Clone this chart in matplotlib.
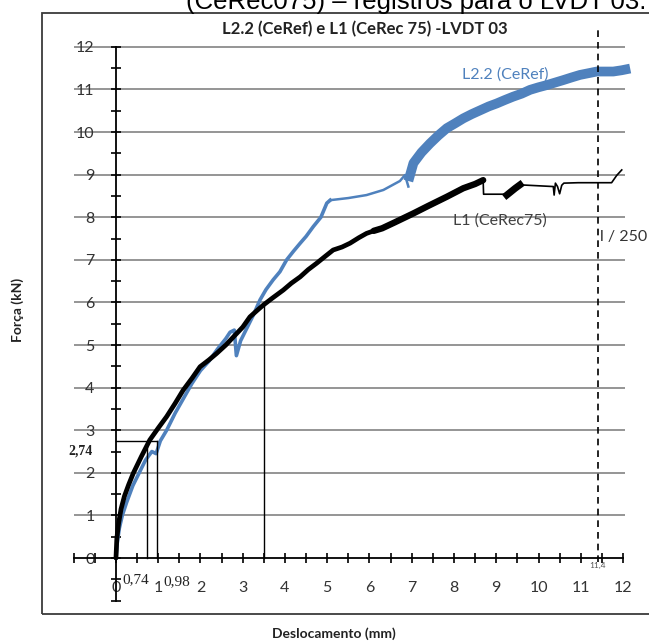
import matplotlib
matplotlib.use("Agg")
import matplotlib.pyplot as plt
from matplotlib.patches import Rectangle
from matplotlib.ticker import MultipleLocator, FixedLocator, FixedFormatter

# ── Data ──────────────────────────────────────────────────────────────────────

# L1 (CeRec75) - main rising part (noisy band)
l1_x = [0.0, 0.02, 0.06, 0.12, 0.2, 0.3, 0.41, 0.6, 0.8, 1.0, 1.2, 1.4, 1.59,
        1.8, 1.99, 2.2, 2.38, 2.6, 2.78, 3.0, 3.17, 3.35, 3.49, 3.7, 3.96, 4.15,
        4.36, 4.55, 4.75, 4.95, 5.14, 5.35, 5.54, 5.75, 5.93, 6.1, 6.3, 6.6,
        7.04, 7.4, 7.83, 8.22, 8.5, 8.69]
l1_y = [0.0, 0.45, 0.8, 1.15, 1.45, 1.72, 1.99, 2.38, 2.77, 3.05, 3.32, 3.63,
        3.94, 4.22, 4.49, 4.65, 4.8, 5.0, 5.19, 5.42, 5.66, 5.82, 5.94, 6.1,
        6.29, 6.45, 6.6, 6.77, 6.92, 7.08, 7.23, 7.3, 7.39, 7.52, 7.62, 7.68,
        7.74, 7.88, 8.09, 8.27, 8.48, 8.68, 8.78, 8.87]

# L1 tail: drop, plateaus and short noisy steps
l1_tail_x = [8.69, 8.70, 9.25, 9.30, 9.40, 9.50, 9.56, 10.35, 10.37, 10.40,
             10.45, 10.50, 10.55, 10.60, 10.94, 11.73, 11.85, 11.97]
l1_tail_y = [8.87, 8.54, 8.54, 8.50, 8.62, 8.70, 8.76, 8.72, 8.52, 8.80,
             8.72, 8.55, 8.75, 8.80, 8.81, 8.81, 8.98, 9.11]
l1_block_x = [9.25, 9.35, 9.45, 9.56]
l1_block_y = [8.52, 8.60, 8.68, 8.76]

# L2.2 (CeRef) - first part, follows L1 with some dips
l2_x = [0.0, 0.03, 0.08, 0.15, 0.25, 0.4, 0.55, 0.7, 0.85, 0.95, 1.05, 1.2,
        1.4, 1.6, 1.8, 2.0, 2.2, 2.4, 2.6, 2.7, 2.8, 2.85, 2.95, 3.1, 3.25,
        3.41, 3.55, 3.72, 3.88, 4.04, 4.2, 4.36, 4.5, 4.67, 4.85, 4.99, 5.07]
l2_y = [0.0, 0.35, 0.7, 1.0, 1.3, 1.7, 2.0, 2.3, 2.5, 2.45, 2.75, 3.0, 3.4,
        3.75, 4.1, 4.4, 4.62, 4.9, 5.15, 5.3, 5.35, 4.75, 5.1, 5.4, 5.7, 6.06,
        6.3, 6.53, 6.72, 7.0, 7.2, 7.39, 7.55, 7.78, 8.0, 8.33, 8.40]

# L2.2 - smooth segment
l2_mid_x = [5.07, 5.5, 5.93, 6.33, 6.72, 6.84, 6.92]
l2_mid_y = [8.40, 8.45, 8.52, 8.64, 8.85, 8.99, 8.72]

# L2.2 - noisy band after the kink
l2_end_x = [6.92, 7.04, 7.23, 7.43, 7.63, 7.83, 8.02, 8.22, 8.42, 8.62, 8.82,
            9.01, 9.2, 9.40, 9.6, 9.80, 10.0, 10.19, 10.39, 10.59, 10.78,
            10.98, 11.18, 11.38, 11.58, 11.77, 11.97, 12.17]
l2_end_y = [8.85, 9.27, 9.52, 9.73, 9.92, 10.09, 10.2, 10.32, 10.42, 10.51,
            10.6, 10.67, 10.75, 10.83, 10.9, 10.99, 11.05, 11.10, 11.16, 11.22,
            11.28, 11.34, 11.38, 11.42, 11.42, 11.42, 11.45, 11.49]

y_ticks = list(range(-1, 13))
y_tick_labels = [""] + [str(v) for v in range(0, 13)]
x_ticks = list(range(-1, 13))
x_tick_labels = [""] + [str(v) for v in range(0, 13)]

# marked points
d1, d2, f1 = 0.74, 0.98, 2.74
d3, f3 = 3.5, 5.95
d_lim = 11.4

BLUE = "#4f81bd"
SANS = "Lato"
SERIF = "Liberation Serif"

# ── Figure ────────────────────────────────────────────────────────────────────

W, H = 649, 643
fig = plt.figure(figsize=(W / 100, H / 100), dpi=100)

# outer chart box (runs past the right edge, as in the cropped original)
fig.patches.append(Rectangle((42 / W, 1 - 614 / H), 700 / W, (614 - 13) / H,
                             transform=fig.transFigure, fill=False,
                             edgecolor="#3a3a3a", linewidth=1.3))

xlim = (-1.05, 12.35)
ylim = (-1.25, 12.45)
ax = fig.add_axes([71.6 / W, (H - 611.25) / H, 566.2 / W, 583.6 / H])
ax.set_xlim(*xlim)
ax.set_ylim(*ylim)
ax.patch.set_alpha(0)

for s in ("top", "right"):
    ax.spines[s].set_visible(False)
ax.spines["left"].set_position(("data", 0))
ax.spines["bottom"].set_position(("data", 0))
ax.spines["left"].set_bounds(-1, 12)
ax.spines["bottom"].set_bounds(-1, 12)
for s in ("left", "bottom"):
    ax.spines[s].set_linewidth(1.3)
    ax.spines[s].set_color("black")
    ax.spines[s].set_zorder(4)

# horizontal gridlines (run through the tick labels, from x=-1)
ax.hlines(range(1, 13), -1, 12.05, color="#8c8c8c", linewidth=1.3, zorder=1)

ax.yaxis.set_major_locator(FixedLocator(y_ticks))
ax.yaxis.set_major_formatter(FixedFormatter(y_tick_labels))
ax.yaxis.set_minor_locator(MultipleLocator(0.5))
ax.xaxis.set_major_locator(FixedLocator(x_ticks))
ax.xaxis.set_major_formatter(FixedFormatter(x_tick_labels))
ax.xaxis.set_minor_locator(MultipleLocator(0.5))
ax.tick_params(which="both", direction="inout", length=7, width=1.2, color="black")
ax.tick_params(axis="y", which="major", pad=12, labelsize=11.5, labelcolor="#333333")
ax.tick_params(axis="x", which="major", pad=13, labelsize=11.5, labelcolor="#333333")
for lab in ax.get_xticklabels() + ax.get_yticklabels():
    lab.set_fontfamily(SANS)

# curves
ax.plot(l2_x, l2_y, color=BLUE, linewidth=2.6, zorder=2, solid_joinstyle="round")
ax.plot(l2_mid_x, l2_mid_y, color=BLUE, linewidth=1.8, zorder=2)
ax.plot(l2_end_x, l2_end_y, color=BLUE, linewidth=7, zorder=2, solid_capstyle="butt")
ax.plot(l1_x, l1_y, color="black", linewidth=3.4, zorder=3,
        solid_joinstyle="round", solid_capstyle="round")
ax.plot(l1_x[-9:], l1_y[-9:], color="black", linewidth=4.6, zorder=3,
        solid_capstyle="round")
ax.plot(l1_tail_x, l1_tail_y, color="black", linewidth=1.2, zorder=3)
ax.plot(l1_block_x, l1_block_y, color="black", linewidth=5, zorder=3)

# reference lines
ax.plot([d1, d1], [0, 2.6], color="black", linewidth=1.0, zorder=3)
ax.plot([d2, d2], [0, f1], color="black", linewidth=1.0, zorder=3)
ax.plot([0, d2], [f1, f1], color="black", linewidth=1.0, zorder=3)
ax.plot([d3, d3], [0, f3], color="black", linewidth=1.0, zorder=3)
ax.plot([d_lim, d_lim], [-0.1, 12.4], color="black", linewidth=1.2,
        linestyle=(0, (4, 3)), zorder=3)

# annotations
ax.text(-0.83, 2.51, "2,74", family=SERIF, fontweight="bold", fontsize=10,
        ha="center", va="center", color="#222222")
ax.text(0.47, -0.5, "0,74", family=SERIF, fontsize=11,
        ha="center", va="center", color="#222222")
ax.text(1.45, -0.55, "0,98", family=SERIF, fontsize=11,
        ha="center", va="center", color="#222222")
ax.text(d_lim, -0.17, "11,4", family=SANS, fontsize=6,
        ha="center", va="center", color="#555555")
ax.text(11.45, 7.53, "l / 250", family=SANS, fontsize=11.5,
        ha="left", va="center", color="#333333")
ax.text(8.19, 11.34, "L2.2 (CeRef)", family=SANS, fontsize=11.5,
        ha="left", va="center", color=BLUE)
ax.text(7.98, 7.93, "L1 (CeRec75)", family=SANS, fontsize=11.5,
        ha="left", va="center", color="#404040")

# titles / labels
fig.text(365 / W, 1 - 29 / H, "L2.2 (CeRef) e L1 (CeRec 75) -LVDT 03",
         family=SANS, fontweight="bold", fontsize=12, ha="center", va="center",
         color="#222222")
fig.text(18 / W, 1 - 310 / H, "Força (kN)", family=SANS, fontweight="bold",
         fontsize=10, rotation=90, ha="center", va="center", color="#222222")
fig.text(334 / W, 1 - 634 / H, "Deslocamento (mm)", family=SANS,
         fontweight="bold", fontsize=10, ha="center", va="center", color="#222222")
# caption of the source document, cut by the top of the crop
fig.text(646 / W, 1 - 9 / H, "(CeRec075) – registros para o LVDT 03.",
         family="Liberation Sans", fontsize=18.5, ha="right", va="baseline",
         color="black")

fig.savefig("out.png", dpi=100)
